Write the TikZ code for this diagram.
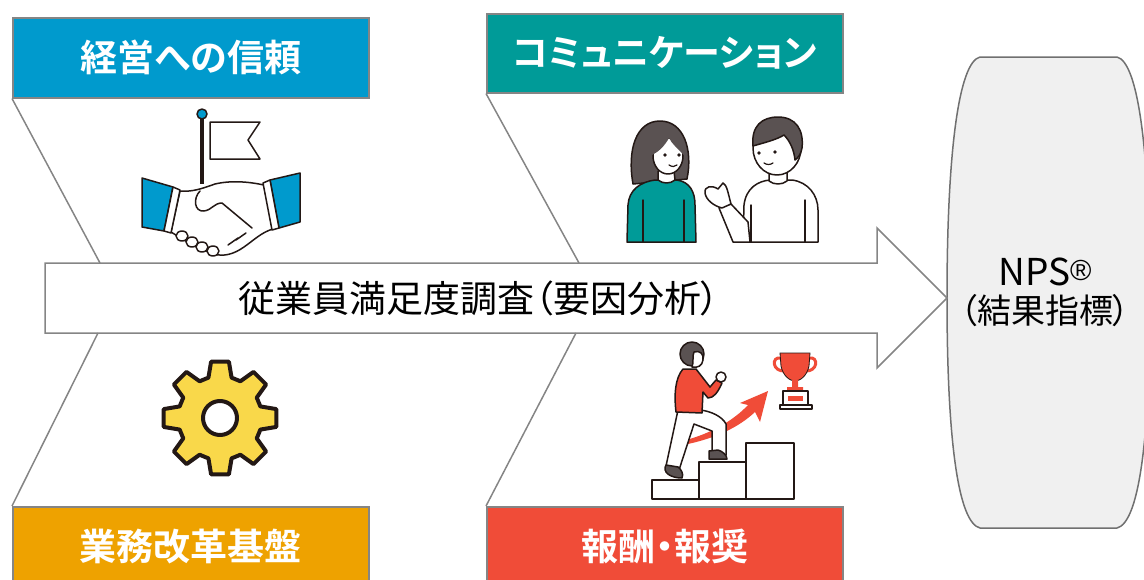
\documentclass[tikz,border=0pt]{standalone}
\usepackage{fontspec}
\setmainfont{Noto Sans CJK JP}[BoldFont={Noto Sans CJK JP Bold}, RawFeature=+palt]
\newfontfamily\regfont{Liberation Sans}
\usetikzlibrary{positioning}

\definecolor{trustblue}{HTML}{009ACD}
\definecolor{commteal}{HTML}{009B98}
\definecolor{baseorange}{HTML}{EEA200}
\definecolor{rewardred}{HTML}{F04C38}
\definecolor{boneline}{HTML}{858585}
\definecolor{npsline}{HTML}{707070}
\definecolor{npsfill}{HTML}{F0F0F0}
\definecolor{hairgray}{HTML}{5A5252}
\definecolor{gearyellow}{HTML}{F9D84A}
\definecolor{inkblack}{HTML}{231815}

\tikzset{
  factor/.style={draw=boneline, line width=1.5pt, text=white, anchor=north west,
    font=\bfseries\fontsize{37}{40}\selectfont, inner sep=0pt,
    minimum width=356pt, minimum height=80pt},
  bone/.style={draw=boneline, line width=1.5pt},
  ink/.style={draw=inkblack, line width=1.5pt, line join=round, line cap=round},
}

\begin{document}
\begin{tikzpicture}[x=1pt, y=-1pt]
\useasboundingbox (0,0) rectangle (1144,579);

% Spine coordinates
\path (45,263) coordinate (tail)
  (947,298) coordinate (tip)
  (100,263) coordinate (trust end)
  (579,263) coordinate (comm end)
  (98,333) coordinate (base end)
  (576,333) coordinate (reward end);

% Result (barrel) and spine arrow
\draw[draw=npsline, line width=1.5pt, fill=npsfill]
  (980,57) -- (1117,57) .. controls (1138,62) and (1150,150) .. (1150,298)
  .. controls (1150,446) and (1138,523) .. (1117,528) -- (980,528)
  .. controls (959,523) and (947,446) .. (947,298)
  .. controls (947,150) and (959,62) .. (980,57) -- cycle;
\draw[bone, fill=white] (tail) -- (877,263) -- (877,228) -- (tip) -- (877,368)
  -- (877,333) -- (45,333) -- cycle;

% Define nodes
\path (12,17) node[factor, fill=trustblue] (trust) {経営への信頼}
  (486,13) node[factor, fill=commteal, minimum height=79pt] (comm) {コミュニケーション}
  (12,506) node[factor, fill=baseorange] (base) {業務改革基盤}
  (486,506) node[factor, fill=rewardred] (reward) {報酬・報奨}
  (479,298) node[font=\fontsize{37}{40}\selectfont] (survey) {従業員満足度調査（要因分析）}
  (1045,292) node[align=center, inner sep=0pt, font=\fontsize{34}{38}\selectfont] (nps)
    {{\fontsize{37}{38}\selectfont NPS\raisebox{5pt}{\regfont\fontsize{29}{30}\selectfont ®}}\\（結果指標）}
  ;

% Bones
\draw[bone] (trust.south west) -- (trust end);
\draw[bone] (comm.south west) -- (comm end);
\draw[bone] (base.north west) -- (base end);
\draw[bone] (reward.north west) -- (reward end);

% Handshake and flag
\draw[inkblack, line width=4pt] (202,118) -- (202,184);
\draw[ink, fill=trustblue] (202,114) circle (5);
\draw[ink, fill=white] (210,122) -- (260,122) -- (248,140) -- (260,159) -- (210,159) -- cycle;
\draw[ink, fill=white] (180,191) .. controls (192,192) and (201,189) .. (215,184)
  .. controls (232,180) and (250,182) .. (264,185) -- (273,229)
  .. controls (262,232) and (254,240) .. (244,247) .. controls (234,254) and (224,257) .. (214,254)
  .. controls (198,249) and (184,240) .. (171,232) -- cycle;
\foreach \fx/\fy in {182/236, 192/242, 202/247, 213/251}
  \draw[ink, fill=white] (\fx,\fy) ellipse (6 and 5);
\draw[ink] (200,191) .. controls (193,198) and (194,212) .. (204,211)
  .. controls (212,210) and (214,203) .. (222,203) -- (252,228);
\draw[ink] (228,245) -- (238,238) (236,240) -- (246,233);
\draw[ink, fill=trustblue] (142,178) -- (173,187) -- (164,231) -- (142,227) -- cycle;
\draw[ink, fill=white] (173,187) -- (180,190) -- (171,233) -- (164,231) -- cycle;
\draw[ink, fill=trustblue] (270,180) -- (300,173) -- (300,222) -- (279,228) -- cycle;
\draw[ink, fill=white] (263,183) -- (270,180) -- (279,228) -- (272,230) -- cycle;

% Two people talking
\draw[ink, fill=hairgray] (633,184) .. controls (627,150) and (636,121) .. (660,121)
  .. controls (684,121) and (693,150) .. (687,179) -- cycle;
\draw[ink, fill=commteal] (627,242) -- (628,205) .. controls (629,190) and (640,182) .. (655,180)
  -- (677,180) .. controls (690,182) and (695,192) .. (695,205) -- (696,242) -- cycle;
\draw[ink, fill=white] (658,171) -- (658,180) .. controls (663,184) and (670,184) .. (675,180) -- (674,171);
\draw[ink] (643,200) -- (643,242) (684,200) -- (684,242);
\draw[ink, fill=white] (668,156) ellipse (15 and 18);
\fill[hairgray] (652,155) .. controls (650,138) and (658,132) .. (668,132)
  .. controls (678,132) and (685,142) .. (684,155) .. controls (678,149) and (672,144) .. (669,138)
  .. controls (664,147) and (658,152) .. (652,155) -- cycle;
\fill[inkblack] (665,155) circle (1.8) (679,155) circle (1.8);
\draw[ink, line width=1.2pt] (669,165) .. controls (672,167) and (675,167) .. (677,165);

\draw[ink, fill=white] (743,242) -- (744,205) .. controls (746,188) and (758,181) .. (770,180)
  -- (792,180) .. controls (808,182) and (818,195) .. (818,210) -- (818,242) -- cycle;
\draw[ink] (751,205) -- (751,242) (805,200) -- (805,242);
\draw[ink, fill=white] (769,172) -- (769,181) .. controls (774,185) and (782,185) .. (787,181) -- (787,172);
\draw[ink, fill=white] (777,148) ellipse (24 and 27);
\draw[ink, fill=hairgray] (753,146) .. controls (751,126) and (762,117) .. (778,117)
  .. controls (796,117) and (804,130) .. (802,148) .. controls (801,154) and (798,158) .. (795,160)
  .. controls (794,150) and (790,141) .. (784,135) .. controls (776,140) and (763,143) .. (753,146) -- cycle;
\fill[inkblack] (759,153) circle (1.8) (775,152) circle (1.8);
\draw[ink, line width=1.2pt] (764,163) .. controls (767,165) and (770,165) .. (773,163);
\draw[ink, fill=white] (719,208) -- (733,242) -- (750,242) -- (748,222) -- (731,204) -- cycle;
\draw[ink, fill=white] (722,208) .. controls (714,206) and (706,200) .. (705,193)
  .. controls (704,186) and (712,185) .. (718,189) -- (723,183)
  .. controls (727,185) and (728,193) .. (731,204) -- cycle;

% Gear
\begin{scope}[shift={(220,418)}]
\draw[ink, line width=4pt, fill=gearyellow] (-16:42)
  \foreach \a in {0,45,...,315} { -- ({\a-16}:42) -- ({\a-9}:57) -- ({\a+9}:57) -- ({\a+16}:42) } -- cycle;
\draw[ink, line width=4pt, fill=white] (0,0) circle (17);
\end{scope}

% Stairs, climber and trophy
\draw[ink, fill=white] (652,480) rectangle (699,499);
\draw[ink, fill=white] (699,462) rectangle (746,499);
\draw[ink, fill=white] (746,443) rectangle (794,499);
\fill[rewardred] (686,440) .. controls (712,433) and (734,420) .. (748,405) -- (740,403)
  -- (768,391) -- (760,422) -- (755,412) .. controls (738,428) and (715,438) .. (688,444) -- cycle;
\draw[ink, fill=white] (678,410) -- (666,466) -- (679,470) -- (694,424) -- (712,431) -- (712,455)
  -- (726,455) -- (726,424) .. controls (722,416) and (710,411) .. (700,410) -- cycle;
\draw[ink, fill=hairgray] (666,465) .. controls (662,472) and (670,478) .. (682,478)
  .. controls (684,474) and (681,469) .. (678,467) -- cycle;
\draw[ink, fill=hairgray] (709,451) -- (709,459) -- (727,459) .. controls (727,455) and (722,451) .. (718,450) -- cycle;
\draw[ink, fill=rewardred] (683,369) -- (696,369) -- (710,387) -- (716,380) -- (722,383)
  .. controls (718,392) and (714,398) .. (708,398) -- (703,392) -- (702,413) -- (676,412)
  .. controls (674,395) and (675,378) .. (683,369) -- cycle;
\draw[ink, fill=white] (721,377) circle (5);
\draw[ink, fill=hairgray] (692,354) circle (12);
\draw[ink, fill=white] (694,352) .. controls (700,350) and (704,354) .. (703,360)
  .. controls (702,366) and (698,368) .. (692,367) .. controls (694,362) and (692,356) .. (694,352) -- cycle;

\draw[rewardred, line width=3pt] (781,358) .. controls (771,356) and (772,372) .. (785,371);
\draw[rewardred, line width=3pt] (809,358) .. controls (819,356) and (818,372) .. (805,371);
\draw[draw=inkblack, line width=0.8pt, fill=rewardred] (780,353) -- (810,353) -- (809,366)
  .. controls (807,376) and (800,381) .. (795,381) .. controls (790,381) and (783,376) .. (781,366) -- cycle;
\fill[rewardred] (792,380) rectangle (798,388) (787,387) rectangle (803,391);
\draw[ink, fill=white] (783,391) rectangle (808,405);
\fill[rewardred] (788,396) rectangle (803,401);
\draw[ink, fill=white] (780,405) rectangle (812,409);

\end{tikzpicture}
\end{document}
